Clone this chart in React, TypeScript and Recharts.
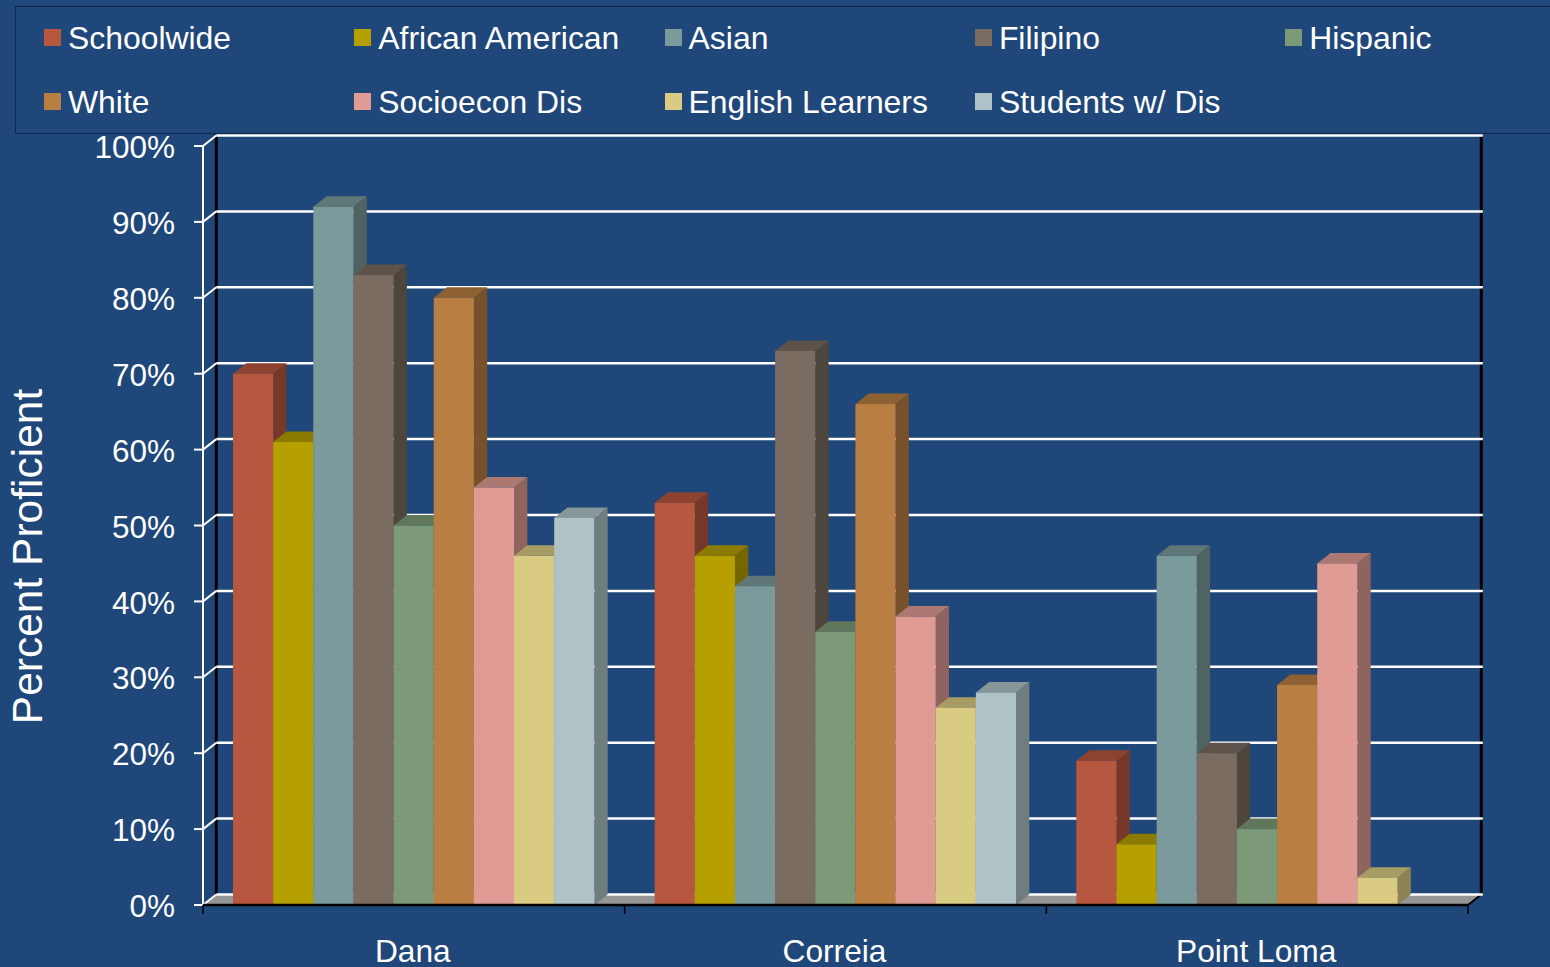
import React from "react";
import { BarChart, Bar, XAxis, YAxis, CartesianGrid, Legend } from "recharts";

const schools = ["Dana", "Correia", "Point Loma"];
const schoolwide = [70, 53, 19];
const africanAmerican = [61, 46, 8];
const asian = [92, 42, 46];
const filipino = [83, 73, 20];
const hispanic = [50, 36, 10];
const white = [80, 66, 29];
const socioeconDis = [55, 38, 45];
const englishLearners = [46, 26, 3.6];
const studentsWithDis = [51, 28, null];
const percentTicks = [0, 10, 20, 30, 40, 50, 60, 70, 80, 90, 100];

const seriesList = [
  { name: "Schoolwide", values: schoolwide, color: "#B85740" },
  { name: "African American", values: africanAmerican, color: "#B5A000" },
  { name: "Asian", values: asian, color: "#7B9A9B" },
  { name: "Filipino", values: filipino, color: "#7A6C60" },
  { name: "Hispanic", values: hispanic, color: "#7D9A78" },
  { name: "White", values: white, color: "#B87E42" },
  { name: "Socioecon Dis", values: socioeconDis, color: "#E09C94" },
  { name: "English Learners", values: englishLearners, color: "#DACB83" },
  { name: "Students w/ Dis", values: studentsWithDis, color: "#AFC3C6" },
];

const chartData = schools.map((school, i) => {
  const row: Record<string, string | number | null> = { school };
  seriesList.forEach((s) => {
    row[s.name] = s.values[i];
  });
  return row;
});

const BG = "#1F4779";
const FONT = "'Liberation Sans', Arial, sans-serif";
// fake 3D depth, as in the old Excel look
const DX = 13.3;
const DY = 10.5;

function shade(hex: string, k: number) {
  const n = parseInt(hex.slice(1), 16);
  const r = Math.round(((n >> 16) & 255) * k);
  const g = Math.round(((n >> 8) & 255) * k);
  const b = Math.round((n & 255) * k);
  return `rgb(${r},${g},${b})`;
}

function Bar3D(props: any) {
  const { x, y, width, height, fill } = props;
  if (height == null || width == null) return null;
  const r = x + width;
  const b = y + height;
  return (
    <g>
      <polygon
        points={`${r},${y} ${r + DX},${y - DY} ${r + DX},${b - DY} ${r},${b}`}
        fill={shade(fill, 0.64)}
      />
      <polygon
        points={`${x},${y} ${x + DX},${y - DY} ${r + DX},${y - DY} ${r},${y}`}
        fill={shade(fill, 0.77)}
      />
      <rect x={x} y={y} width={width} height={height} fill={fill} />
    </g>
  );
}

function GridLine3D(props: any) {
  const { x1, x2, y1, index, x, y, width, height } = props;
  const bottom = y + height;
  const right = x + width;
  return (
    <g>
      {index === 0 && (
        <g>
          <polygon
            points={`${x},${bottom} ${x + DX},${bottom - DY} ${right + DX},${bottom - DY} ${right},${bottom}`}
            fill="#969696"
          />
          <line x1={x + DX} y1={y - DY} x2={x + DX} y2={bottom - DY} stroke="#000" strokeWidth={3} />
          <line x1={right + DX} y1={y - DY} x2={right + DX} y2={bottom - DY} stroke="#000" strokeWidth={3} />
          <line x1={right} y1={bottom} x2={right + DX} y2={bottom - DY} stroke="#000" strokeWidth={2} />
        </g>
      )}
      <line x1={x1 + DX} y1={y1 - DY} x2={x2 + DX + 1.5} y2={y1 - DY} stroke="#fff" strokeWidth={2.5} />
      <line x1={x1} y1={y1} x2={x1 + DX} y2={y1 - DY} stroke="#fff" strokeWidth={2} />
    </g>
  );
}

function SchoolTick(props: any) {
  const { x, y, payload, index, width, visibleTicksCount } = props;
  const step = width / visibleTicksCount;
  return (
    <g>
      <line x1={x - step / 2} y1={y - 8} x2={x - step / 2} y2={y + 1} stroke="#000" strokeWidth={1.5} />
      {index === visibleTicksCount - 1 && (
        <line x1={x + step / 2} y1={y - 8} x2={x + step / 2} y2={y + 1} stroke="#000" strokeWidth={1.5} />
      )}
      <text x={x - 1} y={y + 49} textAnchor="middle" fill="#fff" fontSize={31.7} fontFamily={FONT}>
        {payload.value}
      </text>
    </g>
  );
}

function LegendBox({ payload }: any) {
  return (
    <div style={{ position: "relative", height: 0, fontFamily: FONT, fontSize: 31.9, lineHeight: "32px", color: "#fff" }}>
      <div
        style={{
          position: "absolute",
          left: 15,
          top: 6,
          width: 1540,
          height: 126,
          border: "1.5px solid #14274A",
          boxSizing: "content-box",
        }}
      />
      {(payload || []).map((entry: any, i: number) => {
        const col = i % 5;
        const row = Math.floor(i / 5);
        return (
          <div key={entry.value}>
            <div
              style={{
                position: "absolute",
                left: 44 + col * 310.3,
                top: 29 + row * 64,
                width: 17,
                height: 17,
                background: entry.color,
              }}
            />
            <div style={{ position: "absolute", left: 68 + col * 310.3, top: 22 + row * 64, whiteSpace: "nowrap" }}>
              {entry.value}
            </div>
          </div>
        );
      })}
    </div>
  );
}

function AxisTitle({ viewBox }: any) {
  const tx = viewBox.x + 42;
  const ty = viewBox.y + viewBox.height / 2 + 31;
  return (
    <text
      x={tx}
      y={ty}
      transform={`rotate(-90 ${tx} ${ty})`}
      textAnchor="middle"
      fill="#fff"
      fontSize={42.5}
      fontFamily={FONT}
    >
      Percent Proficient
    </text>
  );
}

export default function App() {
  return (
    <div style={{ position: "absolute", left: 0, top: 0, width: 1550, height: 967, background: BG, overflow: "hidden" }}>
      <BarChart
        width={1550}
        height={967}
        data={chartData}
        margin={{ top: 146, right: 82, bottom: 0, left: 0 }}
        barGap={0}
      >
        <CartesianGrid vertical={false} horizontal={(p: any) => <GridLine3D {...p} />} />
        <YAxis
          type="number"
          domain={[0, 100]}
          ticks={percentTicks}
          width={203}
          tickFormatter={(v: number) => `${v}%`}
          axisLine={{ stroke: "#fff", strokeWidth: 2 }}
          tickLine={{ stroke: "#fff", strokeWidth: 2 }}
          tickSize={9}
          tickMargin={19}
          tick={{ fill: "#fff", fontSize: 31.5, fontFamily: FONT, dy: 1 }}
          label={<AxisTitle />}
          interval={0}
        />
        {seriesList.map((s) => (
          <Bar
            key={s.name}
            dataKey={s.name}
            name={s.name}
            fill={s.color}
            barSize={40.15}
            shape={<Bar3D />}
            isAnimationActive={false}
          />
        ))}
        <XAxis
          dataKey="school"
          height={62}
          axisLine={{ stroke: "#000", strokeWidth: 2.5 }}
          tickLine={false}
          tick={<SchoolTick />}
          interval={0}
        />
        <Legend
          content={<LegendBox />}
          verticalAlign="top"
          itemSorter={null}
          wrapperStyle={{ position: "absolute", left: 0, top: 0, width: 1550, height: 0 }}
        />
      </BarChart>
    </div>
  );
}
